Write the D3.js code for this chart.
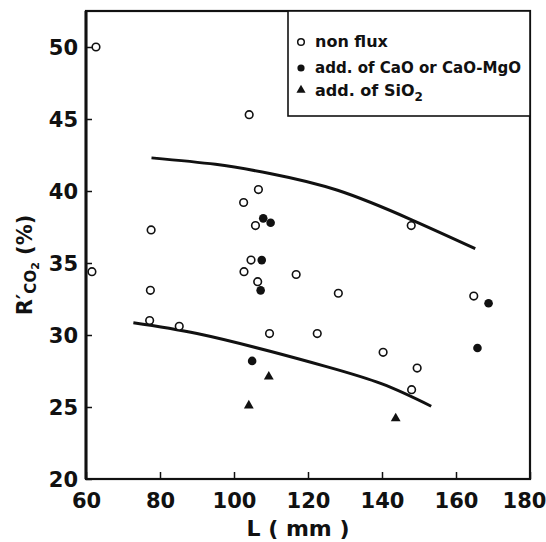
<!DOCTYPE html>
<html>
<head>
<meta charset="utf-8">
<script src="https://cdn.jsdelivr.net/npm/d3@7"></script>
<style>
  body { margin: 0; background: #fff; }
  svg text { font-family: "DejaVu Sans", sans-serif; fill: #111; }
</style>
</head>
<body>
<div id="chart"></div>
<script>
// Data: L (mm) vs R'CO2 (%)
const nonFlux = [
  [62.7, 50.0], [61.6, 34.4], [77.6, 37.3], [77.4, 33.1], [77.2, 31.0],
  [85.2, 30.6], [104.1, 45.3], [106.6, 40.1], [102.6, 39.2], [105.8, 37.6],
  [104.6, 35.2], [102.7, 34.4], [106.4, 33.7], [116.8, 34.2], [128.2, 32.9],
  [109.6, 30.1], [122.5, 30.1], [147.9, 37.6], [164.8, 32.7], [140.3, 28.8],
  [149.5, 27.7], [148.0, 26.2]
];
const caoFlux = [
  [107.9, 38.1], [109.9, 37.8], [107.5, 35.2], [107.2, 33.1],
  [104.9, 28.2], [168.8, 32.2], [165.8, 29.1]
];
const sio2Flux = [
  [109.4, 27.1], [104.0, 25.1], [143.7, 24.2]
];
const upperCurve = [
  [77.7, 42.3], [95, 41.85], [110, 41.2], [128, 40.05], [148, 38.0], [165.2, 36.0]
];
const lowerCurve = [
  [72.8, 30.85], [90, 30.1], [110, 28.85], [125, 27.8], [140, 26.6], [153.3, 25.05]
];
const xTicks = [60, 80, 100, 120, 140, 160, 180];
const yTicks = [20, 25, 30, 35, 40, 45, 50];

const width = 546, height = 542;
const svg = d3.select('#chart').append('svg')
  .attr('width', width)
  .attr('height', height);

const x = d3.scaleLinear().domain([60, 180]).range([86, 530]);
const y = d3.scaleLinear().domain([20, 52.5]).range([479, 11]);

// frame
svg.append('rect')
  .attr('x', x(60)).attr('y', y(52.5))
  .attr('width', x(180) - x(60)).attr('height', y(20) - y(52.5))
  .attr('fill', 'none').attr('stroke', '#111').attr('stroke-width', 2.2);
// heavier left axis
svg.append('line')
  .attr('x1', x(60)).attr('x2', x(60)).attr('y1', y(52.5)).attr('y2', y(20))
  .attr('stroke', '#111').attr('stroke-width', 3);

// axes with inward ticks
const xAxis = d3.axisBottom(x).tickValues(xTicks).tickSizeInner(-7).tickSizeOuter(0).tickPadding(14);
const yAxis = d3.axisLeft(y).tickValues(yTicks).tickSizeInner(-6).tickSizeOuter(0).tickPadding(8);

const gx = svg.append('g').attr('transform', `translate(0,${y(20)})`).call(xAxis);
const gy = svg.append('g').attr('transform', `translate(${x(60)},0)`).call(yAxis);
[gx, gy].forEach(g => {
  g.select('.domain').remove();
  g.selectAll('line').attr('stroke', '#111').attr('stroke-width', 1.5);
  g.selectAll('text')
    .style('font-family', '"DejaVu Sans", sans-serif')
    .style('font-size', '21px')
    .style('font-weight', 'bold')
    .attr('fill', '#111');
});
gy.selectAll('text').attr('dy', '0.36em');
gx.selectAll('text').attr('dy', '0.71em')
  .attr('x', d => d === 180 ? -6 : 0);

// fitted curves
const line = d3.line()
  .x(d => x(d[0]))
  .y(d => y(d[1]))
  .curve(d3.curveNatural);

[upperCurve, lowerCurve].forEach(c => {
  svg.append('path')
    .datum(c)
    .attr('fill', 'none')
    .attr('stroke', '#111')
    .attr('stroke-width', 3)
    .attr('d', line);
});

// points
svg.selectAll('.open')
  .data(nonFlux)
  .enter().append('circle')
  .attr('class', 'open')
  .attr('cx', d => x(d[0]))
  .attr('cy', d => y(d[1]))
  .attr('r', 3.8)
  .attr('fill', '#fff')
  .attr('stroke', '#111')
  .attr('stroke-width', 1.6);

svg.selectAll('.filled')
  .data(caoFlux)
  .enter().append('circle')
  .attr('class', 'filled')
  .attr('cx', d => x(d[0]))
  .attr('cy', d => y(d[1]))
  .attr('r', 4.3)
  .attr('fill', '#111');

const tri = d3.symbol().type(d3.symbolTriangle).size(42);
svg.selectAll('.tri')
  .data(sio2Flux)
  .enter().append('path')
  .attr('class', 'tri')
  .attr('transform', d => `translate(${x(d[0])},${y(d[1])})`)
  .attr('d', tri)
  .attr('fill', '#111');

// legend
const legend = svg.append('g');
legend.append('rect')
  .attr('x', 288).attr('y', 11)
  .attr('width', 242).attr('height', 105)
  .attr('fill', '#fff').attr('stroke', '#111').attr('stroke-width', 1.6);

legend.append('circle')
  .attr('cx', 301).attr('cy', 42).attr('r', 3.3)
  .attr('fill', '#fff').attr('stroke', '#111').attr('stroke-width', 1.5);
legend.append('circle')
  .attr('cx', 301).attr('cy', 68).attr('r', 3.6)
  .attr('fill', '#111');
legend.append('path')
  .attr('transform', 'translate(301,90)')
  .attr('d', d3.symbol().type(d3.symbolTriangle).size(36))
  .attr('fill', '#111');

const legText = yy => legend.append('text')
  .attr('x', 315).attr('y', yy)
  .style('font-size', '16px').style('font-weight', 'bold');

legText(47).text('non flux');
legText(73).text('add. of CaO or CaO-MgO')
  .attr('textLength', 206).attr('lengthAdjust', 'spacingAndGlyphs');
const sio = legText(96);
sio.append('tspan').text('add. of SiO');
sio.append('tspan').text('2').attr('dy', 5).style('font-size', '12px');

// axis titles
svg.append('text')
  .attr('x', 298).attr('y', 536)
  .attr('text-anchor', 'middle')
  .style('font-size', '22px')
  .style('font-weight', 'bold')
  .text('L ( mm )');

const yt = svg.append('text')
  .attr('transform', 'translate(32,265) rotate(-90)')
  .attr('text-anchor', 'middle')
  .style('font-size', '21px')
  .style('font-weight', 'bold');
yt.append('tspan').text('R\u2032');
yt.append('tspan').text('CO').attr('dy', 4).style('font-size', '15px');
yt.append('tspan').text('2').attr('dy', 3).style('font-size', '11px');
yt.append('tspan').text(' (%)').attr('dy', -7);
</script>
</body>
</html>
